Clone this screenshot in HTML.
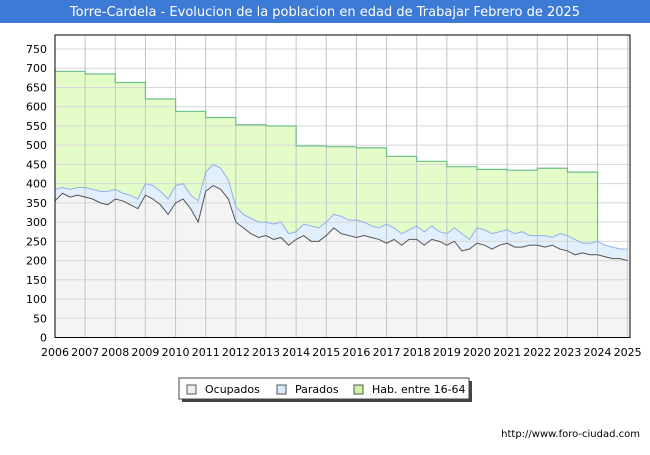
<!DOCTYPE html>
<html><head><meta charset="utf-8"><style>
body{margin:0;background:#fff;font-family:"Liberation Sans","DejaVu Sans",sans-serif}
svg text{font-family:"DejaVu Sans","Liberation Sans",sans-serif}
</style></head><body>
<svg id="c" width="650" height="450">
<rect x="0" y="0" width="650" height="450" fill="#fff"/>
<rect x="0" y="0" width="650" height="23" fill="#3c7ad6"/>
<text x="325" y="16" text-anchor="middle" font-size="13" fill="#fff">Torre-Cardela - Evolucion de la poblacion en edad de Trabajar Febrero de 2025</text>
<g id="bg"></g><g id="series"></g><g id="grid"></g><g id="lines"></g><g id="axes"></g>
<g>
<rect x="182" y="381" width="290" height="21" fill="#444"/>
<rect x="179" y="378" width="290" height="21" fill="#fff" stroke="#444"/>
<rect x="187" y="385" width="9" height="9" fill="#eee" stroke="#555"/>
<text x="205" y="393" font-size="11">Ocupados</text>
<rect x="277" y="385" width="9" height="9" fill="#dbeafc" stroke="#555"/>
<text x="295" y="393" font-size="11">Parados</text>
<rect x="354" y="385" width="9" height="9" fill="#ccf5a0" stroke="#555"/>
<text x="372" y="393" font-size="11">Hab. entre 16-64</text>
</g>
<text x="640" y="437" text-anchor="end" font-size="10">http://www.foro-ciudad.com</text>
</svg>
<script>
const years=[2006,2007,2008,2009,2010,2011,2012,2013,2014,2015,2016,2017,2018,2019,2020,2021,2022,2023,2024,2025];
const yTicks=[0,50,100,150,200,250,300,350,400,450,500,550,600,650,700,750];
const habYears=[2006,2007,2008,2009,2010,2011,2012,2013,2014,2015,2016,2017,2018,2019,2020,2021,2022,2023];
const hab=[692,685,663,620,588,572,553,550,498,496,493,471,458,444,437,435,440,430];
const total=[385,390,385,390, 390,385,380,380, 385,375,370,360, 400,395,380,360, 395,400,370,355, 430,450,440,410, 340,320,310,300, 300,295,300,270, 275,295,290,285, 300,320,315,305, 305,300,290,285, 295,285,270,280, 290,275,290,275, 270,285,270,255, 285,280,270,275, 280,270,275,265, 265,265,260,270, 265,255,245,245, 250,240,235,230, 230];
const ocupados=[355,375,365,370, 365,360,350,345, 360,355,345,335, 370,360,345,320, 350,360,335,300, 380,395,385,360, 300,285,270,260, 265,255,260,240, 255,265,250,250, 265,285,270,265, 260,265,260,255, 245,255,240,255, 255,240,255,250, 240,250,225,230, 245,240,230,240, 245,235,235,240, 240,235,240,230, 225,215,220,215, 215,210,205,205, 200];
const X0=55,X1=627.7,Y0=337.5,Y1=49,Y2=35;
const sx=t=>X0+(t-2006)*(X1-X0)/19;
const sy=v=>Y0+(v)*(Y1-Y0)/750;
const NS='http://www.w3.org/2000/svg';
function mk(tag,attrs,parent){const e=document.createElementNS(NS,tag);for(const k in attrs)e.setAttribute(k,attrs[k]);document.getElementById(parent).appendChild(e);return e;}
mk('rect',{x:X0,y:Y2,width:630-X0,height:Y0-Y2,fill:'#fff'},'bg');
yTicks.forEach(v=>{const l=mk('line',{x1:X0,x2:630,y1:sy(v),y2:sy(v),stroke:'#d8d8d8'},'grid');


const t=mk('text',{x:47,y:sy(v)+4,'text-anchor':'end','font-size':11},'axes');t.textContent=v;

});
years.forEach(yr=>{const l=mk('line',{x1:sx(yr),x2:sx(yr),y1:Y2,y2:Y0,stroke:'#c4c4c4'},'grid');


const t=mk('text',{x:sx(yr),y:356,'text-anchor':'middle','font-size':11},'axes');t.textContent=yr;

});
const tq=i=>2006+i/4;
let hp='';habYears.forEach((y,i)=>{hp+=(i?'L':'M')+sx(y)+','+sy(hab[i])+'L'+sx(y+1)+','+sy(hab[i]);});
const nHab=habYears.length*4;
let hfill=hp;for(let i=nHab;i>=0;i--)hfill+='L'+sx(tq(i))+','+sy(total[i]);
const hf=mk('path',{d:hfill+'Z',fill:'#e4fdc8'},'series');


const hl=mk('path',{d:hp+'L'+sx(2024)+','+sy(total[nHab]),fill:'none',stroke:'#6abf8a','stroke-width':1.2},'lines');


let tp='',op='';total.forEach((v,i)=>{tp+=(i?'L':'M')+sx(tq(i))+','+sy(v);op+=(i?'L':'M')+sx(tq(i))+','+sy(ocupados[i]);});
const last=sx(tq(total.length-1));
let pf=tp;for(let i=ocupados.length-1;i>=0;i--)pf+='L'+sx(tq(i))+','+sy(ocupados[i]);
const pa=mk('path',{d:pf+'Z',fill:'#e2effd'},'series');


const oa=mk('path',{d:op+'L'+last+','+Y0+'L'+X0+','+Y0+'Z',fill:'#f4f4f4'},'series');


const pl=mk('path',{d:tp,fill:'none',stroke:'#8fb0ea','stroke-width':1},'lines');


const ol=mk('path',{d:op,fill:'none',stroke:'#555','stroke-width':1},'lines');


const fr=mk('rect',{x:X0,y:Y2,width:630-X0,height:Y0-Y2,fill:'none',stroke:'#000'},'axes');


</script>
</body></html>
